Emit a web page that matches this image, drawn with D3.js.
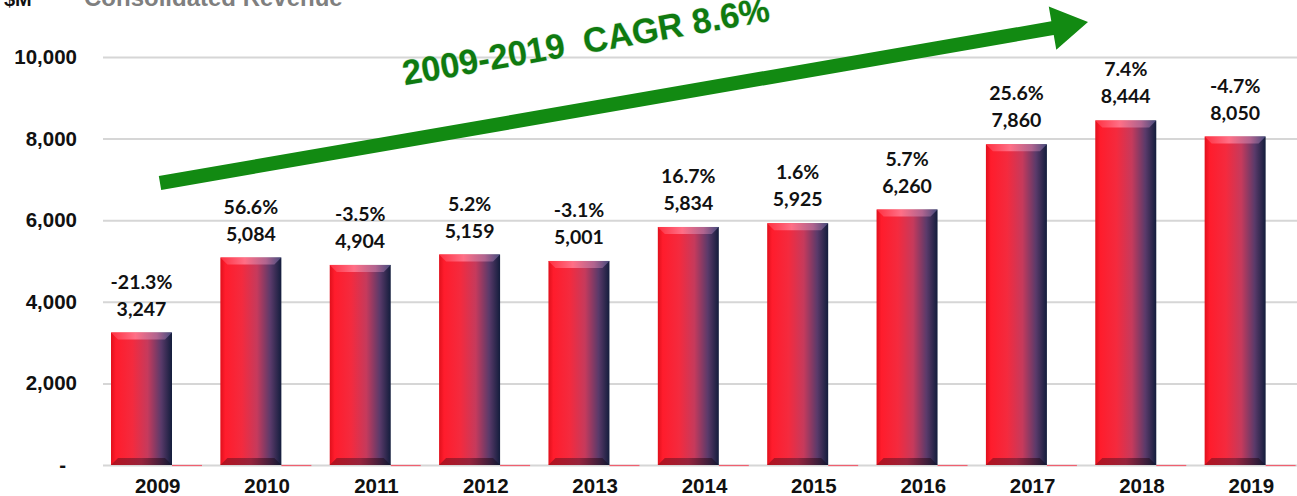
<!DOCTYPE html>
<html>
<head>
<meta charset="utf-8">
<script src="https://cdn.jsdelivr.net/npm/d3@7"></script>
<style>
  body { margin: 0; background: #fff; }
  svg { display: block; }
</style>
</head>
<body>
<svg width="1297" height="496"></svg>
<script>
'use strict';

// data
var years = ['2009', '2010', '2011', '2012', '2013', '2014', '2015', '2016', '2017', '2018', '2019'];
var revenue = [3247, 5084, 4904, 5159, 5001, 5834, 5925, 6260, 7860, 8444, 8050];
var growth = ['-21.3%', '56.6%', '-3.5%', '5.2%', '-3.1%', '16.7%', '1.6%', '5.7%', '25.6%', '7.4%', '-4.7%'];
var yTicks = [0, 2000, 4000, 6000, 8000, 10000];

var svg = d3.select('svg');

var x = d3.scaleBand().domain(years).range([102, 1305]);
var y = d3.scaleLinear().domain([0, 10000]).range([465, 57]);

var barOffset = 9, barW = 61, bev = 7;

// gradients
var defs = svg.append('defs');
var g = defs.append('linearGradient').attr('id', 'barGrad').attr('x1', 0).attr('x2', 1).attr('y1', 0).attr('y2', 0);
g.append('stop').attr('offset', '0%').attr('stop-color', '#e0101c');
g.append('stop').attr('offset', '8%').attr('stop-color', '#ff1c2c');
g.append('stop').attr('offset', '35%').attr('stop-color', '#f42a3e');
g.append('stop').attr('offset', '60%').attr('stop-color', '#c63a5c');
g.append('stop').attr('offset', '82%').attr('stop-color', '#5a3a6a');
g.append('stop').attr('offset', '100%').attr('stop-color', '#131d3c');

var gt = defs.append('linearGradient').attr('id', 'topGrad').attr('x1', 0).attr('x2', 1).attr('y1', 0).attr('y2', 0);
gt.append('stop').attr('offset', '0%').attr('stop-color', '#ff3040');
gt.append('stop').attr('offset', '40%').attr('stop-color', '#ff6f86');
gt.append('stop').attr('offset', '75%').attr('stop-color', '#b0648f');
gt.append('stop').attr('offset', '100%').attr('stop-color', '#454a7c');

var gb = defs.append('linearGradient').attr('id', 'botGrad').attr('x1', 0).attr('x2', 1).attr('y1', 0).attr('y2', 0);
gb.append('stop').attr('offset', '0%').attr('stop-color', '#a8101c');
gb.append('stop').attr('offset', '50%').attr('stop-color', '#8a2038');
gb.append('stop').attr('offset', '100%').attr('stop-color', '#0e1630');

// title bits (cut off at top, as in the reference)
svg.append('text').attr('x', 4).attr('y', 6)
  .attr('font-family', 'Liberation Sans, Arial, sans-serif').attr('font-weight', 'bold')
  .attr('font-size', 20).attr('fill', '#111').text('$M');
svg.append('text').attr('x', 84).attr('y', 6)
  .attr('font-family', 'Liberation Sans, Arial, sans-serif').attr('font-weight', 'bold')
  .attr('font-size', 24).attr('fill', '#7f7f7f').text('Consolidated Revenue');

// gridlines
svg.append('g').selectAll('line').data(yTicks).enter().append('line')
  .attr('x1', 103).attr('x2', 1297)
  .attr('y1', function (d) { return y(d) + 0.5; })
  .attr('y2', function (d) { return y(d) + 0.5; })
  .attr('stroke', '#d6d6d6').attr('stroke-width', 2);

// y axis labels
svg.append('g').selectAll('text').data(yTicks).enter().append('text')
  .attr('x', function (d) { return d === 0 ? 66 : 77; })
  .attr('y', function (d) { return y(d) + 7; })
  .attr('text-anchor', 'end')
  .attr('font-family', 'Liberation Sans, Arial, sans-serif').attr('font-weight', 'bold')
  .attr('font-size', 20.5).attr('fill', '#111')
  .text(function (d) { return d === 0 ? '-' : d3.format(',')(d); });

// bars
var bars = svg.append('g').selectAll('g').data(years).enter().append('g');

bars.append('rect')
  .attr('x', function (d) { return x(d) + barOffset; })
  .attr('y', function (d, i) { return y(revenue[i]); })
  .attr('width', barW)
  .attr('height', function (d, i) { return y(0) - y(revenue[i]); })
  .attr('fill', 'url(#barGrad)');

bars.append('path')
  .attr('d', function (d, i) {
    var x0 = x(d) + barOffset, t = y(revenue[i]);
    return 'M' + x0 + ',' + t + 'H' + (x0 + barW) + 'L' + (x0 + barW - bev) + ',' + (t + bev) +
      'H' + (x0 + bev) + 'Z';
  })
  .attr('fill', 'url(#topGrad)');

bars.append('path')
  .attr('d', function (d, i) {
    var x0 = x(d) + barOffset, b = y(0);
    return 'M' + x0 + ',' + b + 'H' + (x0 + barW) + 'L' + (x0 + barW - bev) + ',' + (b - bev) +
      'H' + (x0 + bev) + 'Z';
  })
  .attr('fill', 'url(#botGrad)').attr('opacity', 0.85);

// thin red sliver right of each bar at the baseline
bars.append('line')
  .attr('x1', function (d) { return x(d) + barOffset + barW; })
  .attr('x2', function (d) { return x(d) + barOffset + barW + 30; })
  .attr('y1', y(0) + 0.5).attr('y2', y(0) + 0.5)
  .attr('stroke', '#f06070').attr('stroke-width', 1.2);

// value labels
bars.append('text')
  .attr('x', function (d) { return x(d) + barOffset + barW / 2; })
  .attr('y', function (d, i) { return y(revenue[i]) - 17; })
  .attr('text-anchor', 'middle')
  .attr('font-family', 'Lato, sans-serif').attr('font-weight', 'bold')
  .attr('font-size', 19.5).attr('fill', '#111')
  .text(function (d, i) { return d3.format(',')(revenue[i]); });

bars.append('text')
  .attr('x', function (d) { return x(d) + barOffset + barW / 2; })
  .attr('y', function (d, i) { return y(revenue[i]) - 44; })
  .attr('text-anchor', 'middle')
  .attr('font-family', 'Lato, sans-serif').attr('font-weight', 'bold')
  .attr('font-size', 19.5).attr('fill', '#111')
  .text(function (d, i) { return growth[i]; });

// x axis labels
svg.append('g').selectAll('text').data(years).enter().append('text')
  .attr('x', function (d) { return x(d) + x.bandwidth() / 2 + 1; })
  .attr('y', 493)
  .attr('text-anchor', 'middle')
  .attr('font-family', 'Liberation Sans, Arial, sans-serif').attr('font-weight', 'bold')
  .attr('font-size', 20.5).attr('fill', '#111')
  .text(function (d) { return d; });

// CAGR arrow
var tail = [160, 183], tip = [1088, 22];
var ang = Math.atan2(tip[1] - tail[1], tip[0] - tail[0]);
var len = Math.hypot(tip[0] - tail[0], tip[1] - tail[1]);
var arrow = svg.append('g')
  .attr('transform', 'translate(' + tail[0] + ',' + tail[1] + ') rotate(' + (ang * 180 / Math.PI) + ')');
var headL = 36, headH = 22, shaft = 7;
arrow.append('path')
  .attr('d', 'M0,' + (-shaft) + 'H' + (len - headL) + 'V' + (-headH) + 'L' + len + ',0L' +
    (len - headL) + ',' + headH + 'V' + shaft + 'H0Z')
  .attr('fill', '#128a12');

svg.append('text')
  .attr('transform', 'translate(588,53) rotate(-10)')
  .attr('text-anchor', 'middle')
  .attr('font-family', 'Liberation Sans Narrow, Liberation Sans, Arial, sans-serif')
  .attr('font-weight', 'bold').attr('font-size', 35)
  .attr('fill', '#0f7a10')
  .attr('textLength', 372).attr('lengthAdjust', 'spacingAndGlyphs')
  .attr('style', 'paint-order: stroke; stroke: #cfe8cf; stroke-width: 1px')
  .text('2009-2019\u00a0\u00a0CAGR 8.6%');
</script>
</body>
</html>
